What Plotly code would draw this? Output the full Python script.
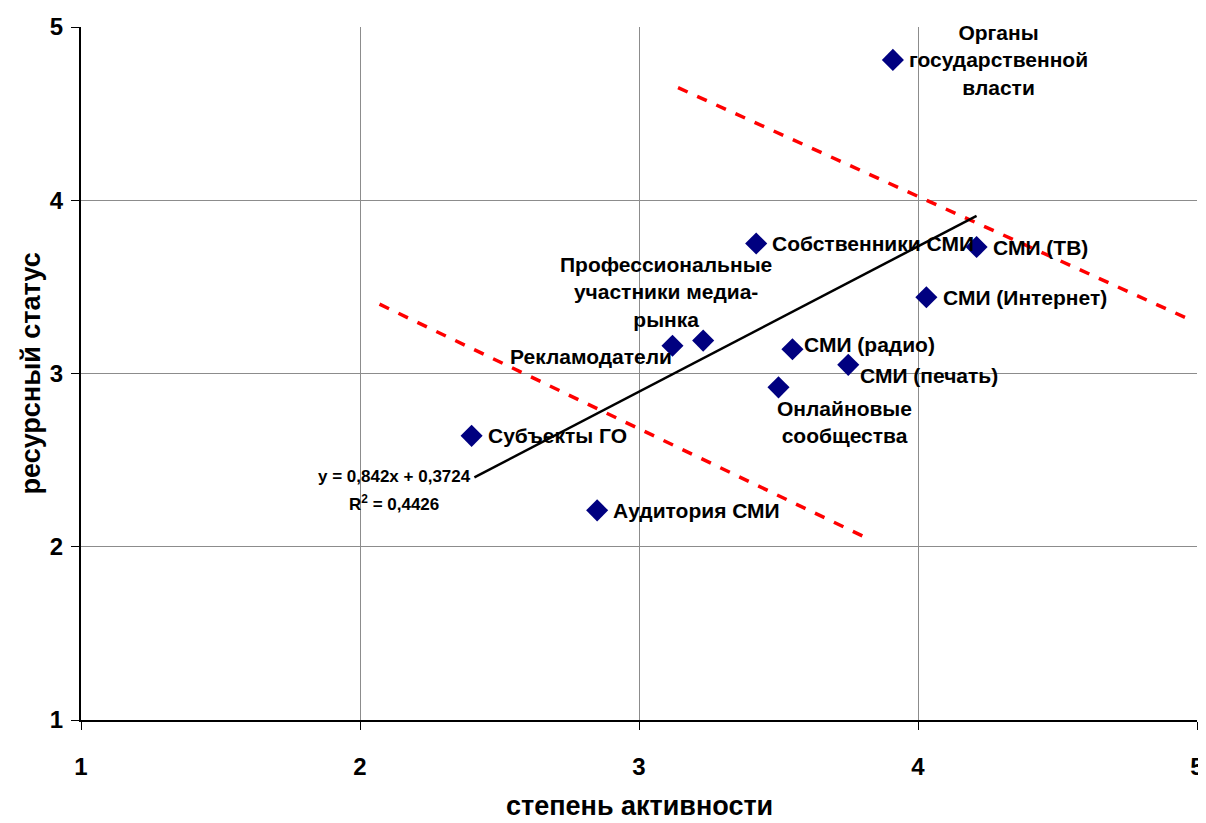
import plotly.graph_objects as go

# ---- data ----
actors = ["Органы<br>государственной<br>власти", "СМИ (ТВ)", "Собственники СМИ", "СМИ (Интернет)",
          "Профессиональные<br>участники медиа-<br>рынка", "Рекламодатели", "СМИ (радио)",
          "СМИ (печать)", "Онлайновые<br>сообщества", "Субъекты ГО", "Аудитория СМИ"]
activity = [3.91, 4.21, 3.42, 4.03, 3.23, 3.12, 3.55, 3.75, 3.50, 2.40, 2.85]
resource = [4.81, 3.73, 3.75, 3.44, 3.19, 3.16, 3.14, 3.05, 2.92, 2.64, 2.21]

trend_x = [2.41, 4.21]
trend_y = [2.40, 3.91]
upper_x = [3.14, 4.99]
upper_y = [4.65, 3.30]
lower_x = [2.07, 3.83]
lower_y = [3.40, 2.04]

x_ticks = [1, 2, 3, 4, 5]
y_ticks = [1, 2, 3, 4, 5]

x_title = "степень активности"
y_title = "ресурсный статус"
equation = "y = 0,842x + 0,3724"
r2_text = "R<sup>2</sup> = 0,4426"

# label placement (style): xanchor, yanchor, xshift, yshift
placement = [
    ("center", "middle", 106, 0),
    ("left", "middle", 14, 0),
    ("left", "middle", 14, 0),
    ("left", "middle", 15, 0),
    ("center", "bottom", -37, 8),
    ("right", "middle", 2, -11),
    ("left", "middle", 10, 5),
    ("left", "middle", 10, -11),
    ("center", "top", 66, -8),
    ("left", "middle", 14, 0),
    ("left", "middle", 14, 0),
]

FONT = "Liberation Sans, Arial, sans-serif"

fig = go.Figure()
fig.add_trace(go.Scatter(x=upper_x, y=upper_y, mode="lines",
                         line=dict(color="#ff0000", width=3.5, dash="dash"), hoverinfo="skip"))
fig.add_trace(go.Scatter(x=lower_x, y=lower_y, mode="lines",
                         line=dict(color="#ff0000", width=3.5, dash="dash"), hoverinfo="skip"))
fig.add_trace(go.Scatter(x=trend_x, y=trend_y, mode="lines",
                         line=dict(color="#000000", width=2.5), hoverinfo="skip"))
fig.add_trace(go.Scatter(x=activity, y=resource, mode="markers",
                         marker=dict(symbol="diamond", size=17, color="#000080",
                                     line=dict(width=0)),
                         text=actors))

for name, xv, yv, (xa, ya, xs, ys) in zip(actors, activity, resource, placement):
    fig.add_annotation(x=xv, y=yv, text="<b>" + name + "</b>", showarrow=False,
                       xanchor=xa, yanchor=ya, xshift=xs, yshift=ys, align="center",
                       font=dict(family=FONT, size=21, color="#000000"))

fig.add_annotation(x=trend_x[0], y=trend_y[0], text="<b>" + equation + "</b>", showarrow=False,
                   xanchor="right", yanchor="middle", xshift=-1, yshift=1,
                   font=dict(family=FONT, size=17, color="#000000"))
fig.add_annotation(x=trend_x[0], y=trend_y[0], text="<b>" + r2_text + "</b>", showarrow=False,
                   xanchor="right", yanchor="middle", xshift=-33, yshift=-26,
                   font=dict(family=FONT, size=17, color="#000000"))

# axis titles
fig.add_annotation(x=0.5, y=0, xref="paper", yref="paper", text="<b>" + x_title + "</b>",
                   showarrow=False, xanchor="center", yanchor="middle", yshift=-86,
                   font=dict(family=FONT, size=27, color="#000000"))
fig.add_annotation(x=0, y=0.5, xref="paper", yref="paper", text="<b>" + y_title + "</b>",
                   showarrow=False, xanchor="center", yanchor="middle", xshift=-51,
                   textangle=-90, font=dict(family=FONT, size=27, color="#000000"))

# the page body adds an 8px offset, so the figure is sized to fit the window
fig.update_layout(
    width=1198, height=815,
    margin=dict(l=73, r=9, t=19, b=103),
    paper_bgcolor="white", plot_bgcolor="white",
    showlegend=False,
    font=dict(family=FONT, color="#000000"),
    xaxis=dict(range=[1, 5], tickvals=x_ticks, ticktext=["<b>%d</b>" % v for v in x_ticks],
               showgrid=True, gridcolor="#8c8c8c", gridwidth=1,
               showline=True, linecolor="#000000", linewidth=2,
               ticks="outside", ticklen=8, tickcolor="#000000", tickwidth=1,
               ticklabelstandoff=16, zeroline=False, automargin=False,
               tickfont=dict(family=FONT, size=24)),
    yaxis=dict(range=[1, 5], tickvals=y_ticks, ticktext=["<b>%d</b>" % v for v in y_ticks],
               showgrid=True, gridcolor="#8c8c8c", gridwidth=1,
               showline=True, linecolor="#000000", linewidth=2,
               ticks="outside", ticklen=8, tickcolor="#000000", tickwidth=1,
               ticklabelstandoff=3, zeroline=False, automargin=False,
               tickfont=dict(family=FONT, size=24)),
)

fig.write_html("out.html")
